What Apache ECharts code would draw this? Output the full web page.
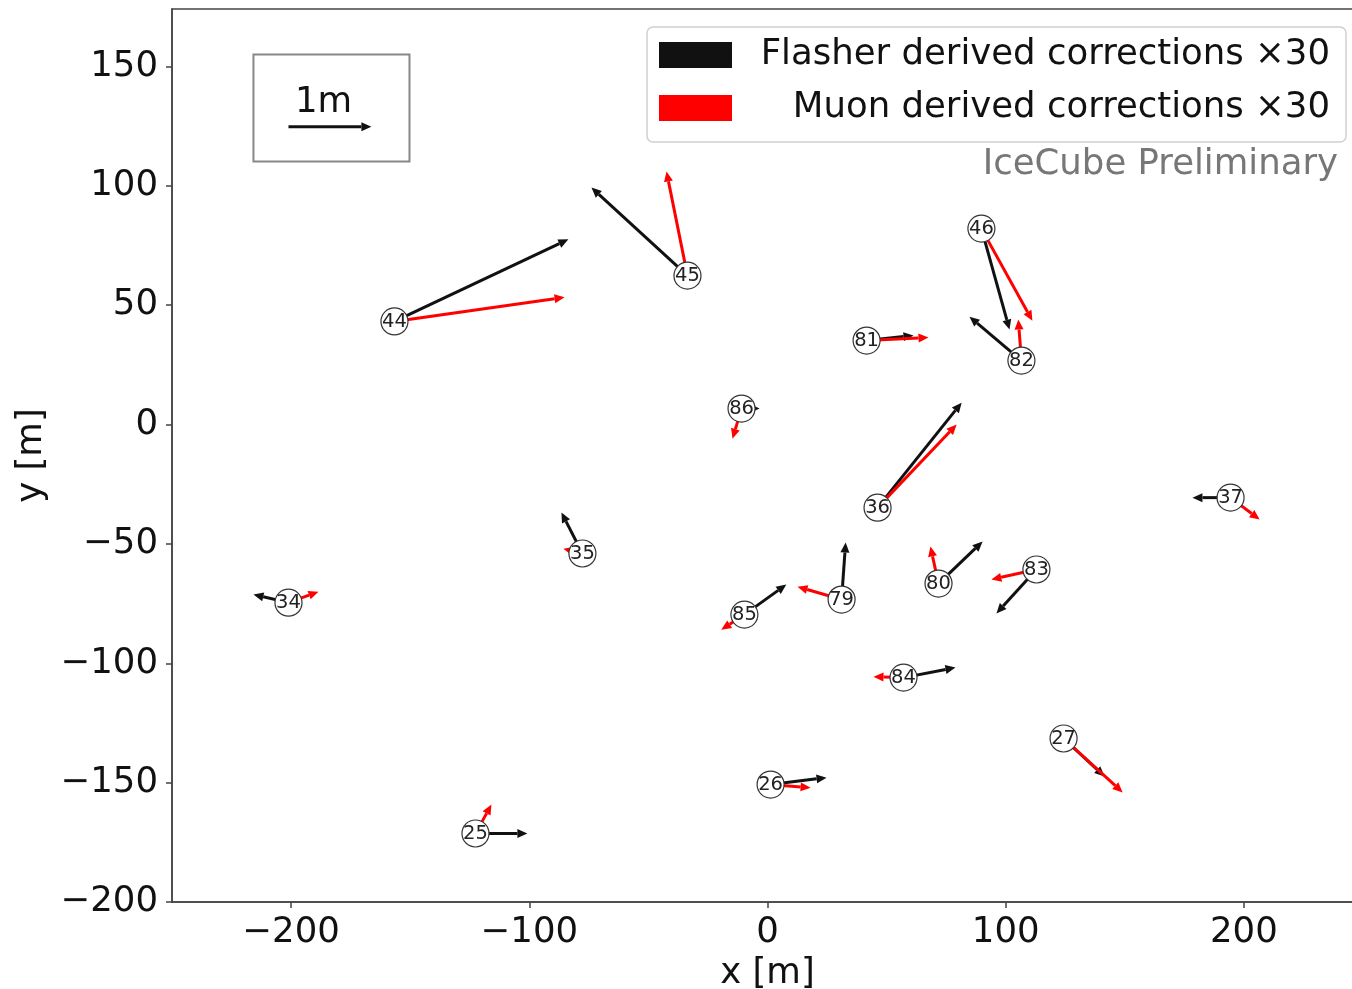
<!DOCTYPE html>
<html><head><meta charset="utf-8">
<script src="https://cdn.jsdelivr.net/npm/echarts@6/dist/echarts.min.js"></script>
<style>html,body{margin:0;padding:0;background:#fff}#c{width:1352px;height:989px}</style>
</head><body><div id="c"></div>
<script>
// String numbers and positions [m]
const strings = [44,45,46,82,81,86,36,37,34,35,25,79,85,80,83,84,26,27];
const posX = [-156.6,-33.6,89.8,106.6,41.6,-10.9,46.2,194.4,-201.1,-77.7,-122.6,31.1,-9.7,71.8,112.9,57.1,1.3,124.3];
const posY = [43.2,62.4,82.1,26.8,35.2,6.7,-34.8,-30.6,-74.6,-54.0,-171.3,-73.3,-79.6,-66.6,-60.7,-106.0,-150.8,-131.5];
// Plotted correction vectors (already scaled x30), in plot metres
const flasherDx = [73.0,-40.3,11.8,-21.8,19.7,7.6,35.3,-16.0,-14.7,-8.8,21.8,1.7,17.6,18.5,-16.8,21.8,23.5,17.2];
const flasherDy = [34.4,36.9,-42.3,18.4,2.1,0.0,44.0,0.0,3.4,17.2,0.0,23.9,12.6,17.6,-18.4,4.2,2.9,-15.9];
const muonDx = [71.4,-8.8,21.4,-1.3,26.0,-3.8,33.2,12.2,12.6,-8.0,6.7,-18.5,-9.7,-3.4,-18.9,-12.6,16.8,24.8];
const muonDy = [10.1,43.6,-38.6,17.2,1.3,-12.6,34.8,-9.2,4.6,2.0,12.1,5.4,-6.3,15.5,-4.2,0.4,-1.3,-22.6];
// Scale reference (1 m arrow) and its frame
const scaleArrow = [-201.1, 124.8, 34.8, 0];
const scaleLabelPos = [-186.4, 134.9];
const scaleBoxX = [-215.8, -150.3];
const scaleBoxY = [110.2, 155.0];
// Tick labels
const xTicks = [-200,-100,0,100,200];
const yTicks = [-200,-150,-100,-50,0,50,100,150];

const FONT = 'DejaVu Sans';
const FS = 35.5;
const BLACK = '#111111', RED = '#ff0000';

function arrowEls(p0, p1, color) {
  const vx = p1[0]-p0[0], vy = p1[1]-p0[1];
  const L = Math.hypot(vx, vy) || 1;
  const ux = vx/L, uy = vy/L, nx = -uy, ny = ux;
  const hl = Math.min(10, L*0.6), hw = 4.5;
  const bx = p1[0]-ux*hl, by = p1[1]-uy*hl;
  return [
    {type:'line', shape:{x1:p0[0],y1:p0[1],x2:bx,y2:by}, style:{stroke:color, lineWidth:3}},
    {type:'polygon', shape:{points:[[p1[0],p1[1]],[bx+nx*hw,by+ny*hw],[bx-nx*hw,by-ny*hw]]}, style:{fill:color}}
  ];
}
function makeArrowRender(color) {
  return function(params, api) {
    const x = api.value(0), y = api.value(1), dx = api.value(2), dy = api.value(3);
    const p0 = api.coord([x, y]);
    const p1 = api.coord([x+dx, y+dy]);
    return {type:'group', children: arrowEls(p0, p1, color)};
  };
}

const flasherData = strings.map((s,i)=>[posX[i], posY[i], flasherDx[i], flasherDy[i]]);
const muonData = strings.map((s,i)=>[posX[i], posY[i], muonDx[i], muonDy[i]]);
const stringData = strings.map((s,i)=>[posX[i], posY[i], s]);

const chart = echarts.init(document.getElementById('c'), null, {renderer:'canvas'});
chart.setOption({
  animation: false,
  backgroundColor: '#fff',
  textStyle: {fontFamily: FONT},
  grid: {left:172, right:-11, top:9, bottom:87, outerBoundsMode:'none', containLabel:false,
    show:true, borderColor:'#444', borderWidth:1.5, backgroundColor:'transparent'},
  title: {text:'IceCube Preliminary', right:14, top:147, padding:0,
    textStyle:{fontFamily:FONT, fontSize:FS, fontWeight:'normal', color:'#777'}},
  legend: {
    orient:'vertical', left:647, top:27, padding:[10,16,16,12],
    itemWidth:73, itemHeight:26, itemGap:17, icon:'rect',
    borderColor:'#d0d0d0', borderWidth:1.5, borderRadius:6, backgroundColor:'#fff',
    selectedMode:false,
    data:['Flasher derived corrections ×30','Muon derived corrections ×30'],
    formatter: n => '{a|' + n + '}',
    textStyle:{lineHeight:26, rich:{a:{width:593, height:26, align:'right', fontSize:FS, fontFamily:FONT, color:'#111', lineHeight:26}}}
  },
  xAxis: {
    type:'value', min:-250, max:250,
    name:'x [m]', nameLocation:'middle', nameGap:53,
    nameTextStyle:{fontFamily:FONT, fontSize:FS, color:'#111'},
    axisLine:{show:true, onZero:false, lineStyle:{color:'#444', width:1.5}},
    axisTick:{show:true, length:6, customValues:xTicks, lineStyle:{color:'#444', width:1.5}},
    axisLabel:{customValues:xTicks, fontFamily:FONT, fontSize:FS, color:'#111', margin:13,
      formatter: v => (v < 0 ? '\u2212' + Math.abs(v) : String(v))},
    splitLine:{show:false}
  },
  yAxis: {
    type:'value', min:-200, max:174.1,
    name:'y [m]', nameLocation:'middle', nameGap:114, nameRotate:90,
    nameTextStyle:{fontFamily:FONT, fontSize:FS, color:'#111'},
    axisLine:{show:true, onZero:false, lineStyle:{color:'#444', width:1.5}},
    axisTick:{show:true, length:6, customValues:yTicks, lineStyle:{color:'#444', width:1.5}},
    axisLabel:{customValues:yTicks, fontFamily:FONT, fontSize:FS, color:'#111', margin:14,
      formatter: v => (v < 0 ? '\u2212' + Math.abs(v) : String(v))},
    splitLine:{show:false}
  },
  series: [
    {
      type:'custom', name:'Flasher derived corrections ×30', z:2,
      itemStyle:{color:BLACK}, data:flasherData, encode:{x:0, y:1},
      renderItem: makeArrowRender(BLACK), clip:true
    },
    {
      type:'custom', name:'Muon derived corrections ×30', z:3,
      itemStyle:{color:RED}, data:muonData, encode:{x:0, y:1},
      renderItem: makeArrowRender(RED), clip:true
    },
    {
      type:'scatter', name:'strings', z:5, data:stringData,
      symbol:'circle', symbolSize:27,
      itemStyle:{color:'#fff', borderColor:'#333', borderWidth:1.2, opacity:1},
      label:{show:true, position:'inside', formatter: p => String(p.value[2]),
        fontFamily:FONT, fontSize:19.5, color:'#222'},
      emphasis:{disabled:true}, silent:true
    },
    {
      type:'custom', name:'scale', z:4, silent:true,
      data:[[scaleArrow[0], scaleArrow[1], scaleArrow[2], scaleArrow[3]]], encode:{x:0, y:1},
      renderItem: function(params, api) {
        const b0 = api.coord([scaleBoxX[0], scaleBoxY[1]]);
        const b1 = api.coord([scaleBoxX[1], scaleBoxY[0]]);
        const p0 = api.coord([api.value(0), api.value(1)]);
        const p1 = api.coord([api.value(0)+api.value(2), api.value(1)+api.value(3)]);
        const t = api.coord(scaleLabelPos);
        return {type:'group', children:[
          {type:'rect', shape:{x:b0[0], y:b0[1], width:b1[0]-b0[0], height:b1[1]-b0[1]},
            style:{fill:'#fff', stroke:'#888', lineWidth:2}},
          ...arrowEls(p0, p1, BLACK),
          {type:'text', x:t[0], y:t[1], style:{text:'1m', fontFamily:FONT, fontSize:FS, fill:'#111',
            align:'center', verticalAlign:'middle'}}
        ]};
      }
    }
  ]
});
</script>
</body></html>
